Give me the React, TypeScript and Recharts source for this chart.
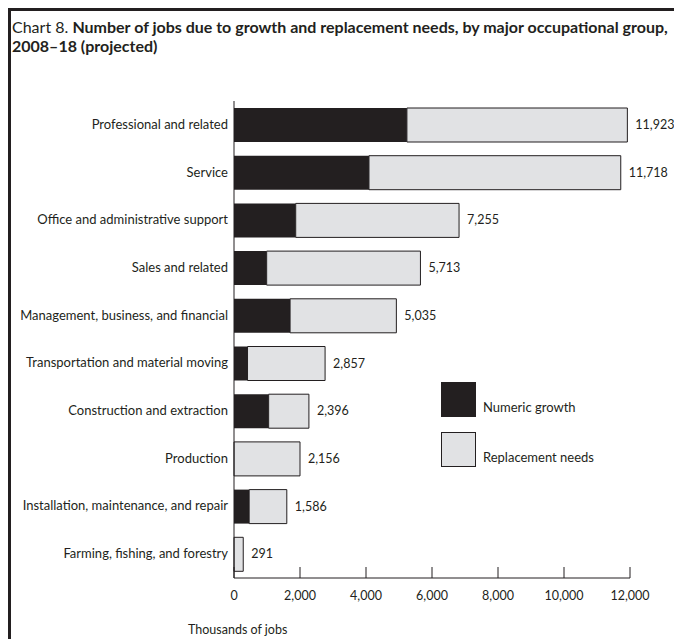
import React from 'react';
import { BarChart, Bar, XAxis, YAxis, LabelList } from 'recharts';

const categories = [
  'Professional and related',
  'Service',
  'Office and administrative support',
  'Sales and related',
  'Management, business, and financial',
  'Transportation and material moving',
  'Construction and extraction',
  'Production',
  'Installation, maintenance, and repair',
  'Farming, fishing, and forestry',
];
const numericGrowth = [5240, 4090, 1870, 990, 1700, 410, 1050, 0, 460, 0];
const replacementNeeds = [6680, 7630, 4950, 4660, 3220, 2350, 1220, 2000, 1140, 280];
const totalLabels = ['11,923', '11,718', '7,255', '5,713', '5,035', '2,857', '2,396', '2,156', '1,586', '291'];
const xTicks = [0, 2000, 4000, 6000, 8000, 10000, 12000];

const data = categories.map((name, i) => ({
  name,
  growth: numericGrowth[i],
  replacement: replacementNeeds[i],
  label: totalLabels[i],
}));

const INK = '#231f20';
const GRAY = '#e1e2e4';
const FONT = 'Lato, "Noto Sans", sans-serif';
const AXIS_Y = 578;

const XTick = (props: any) => {
  const { x, payload } = props;
  return (
    <g>
      <line x1={x} x2={x} y1={AXIS_Y - 11} y2={AXIS_Y} stroke={INK} strokeWidth={1} />
      <text x={x} y={AXIS_Y + 22} textAnchor="middle" fontSize={12.5} fill={INK} fontFamily={FONT}>
        {payload.value.toLocaleString('en-US')}
      </text>
    </g>
  );
};

const YTick = (props: any) => {
  const { x, y, payload } = props;
  return (
    <text x={x} y={y} dy={4} textAnchor="end" fontSize={13} fill={INK} fontFamily={FONT}>
      {payload.value}
    </text>
  );
};

const ValueLabel = (props: any) => {
  const { x, y, width, height, value } = props;
  return (
    <text x={x + width + 8} y={y + height / 2} dy={4} fontSize={12.5} fill={INK} fontFamily={FONT}>
      {value}
    </text>
  );
};

const LegendBox = () => (
  <div style={{ position: 'absolute', left: 441, top: 382, fontFamily: FONT, fontSize: 13, color: INK }}>
    <div style={{ display: 'flex', alignItems: 'flex-end', height: 35 }}>
      <div style={{ width: 35, height: 35, background: INK }} />
      <span style={{ marginLeft: 7, marginBottom: 2, whiteSpace: 'nowrap' }}>Numeric growth</span>
    </div>
    <div style={{ display: 'flex', alignItems: 'flex-end', height: 35, marginTop: 15 }}>
      <div style={{ width: 35, height: 35, background: GRAY, border: `1px solid ${INK}`, boxSizing: 'border-box' }} />
      <span style={{ marginLeft: 7, marginBottom: 2, whiteSpace: 'nowrap' }}>Replacement needs</span>
    </div>
  </div>
);

export default function App() {
  return (
    <div style={{ position: 'absolute', left: 0, top: 0, width: 674, height: 639, background: '#fff', overflow: 'hidden' }}>
      <div
        style={{
          position: 'absolute',
          left: 12,
          top: 17,
          width: 662,
          fontFamily: FONT,
          fontSize: 16,
          lineHeight: '19px',
          color: INK,
          whiteSpace: 'nowrap',
        }}
      >
        Chart 8. <b>Number of jobs due to growth and replacement needs, by major occupational group,</b>
        <br />
        <b>2008–18 (projected)</b>
      </div>
      <div style={{ position: 'absolute', left: 0, top: 0 }}>
        <BarChart
          width={674}
          height={639}
          data={data}
          layout="vertical"
          margin={{ top: 101, right: 44, bottom: 21, left: 8 }}
        >
          <XAxis
            type="number"
            domain={[0, 12000]}
            ticks={xTicks}
            tickLine={false}
            axisLine={{ stroke: INK }}
            tick={<XTick />}
            height={40}
            interval={0}
          />
          <YAxis
            type="category"
            dataKey="name"
            width={226}
            tickLine={false}
            tickSize={0}
            tickMargin={6}
            axisLine={{ stroke: INK }}
            tick={<YTick />}
            interval={0}
          />
          <Bar dataKey="growth" name="Numeric growth" stackId="a" fill={INK} barSize={34} isAnimationActive={false} />
          <Bar
            dataKey="replacement"
            name="Replacement needs"
            stackId="a"
            fill={GRAY}
            stroke={INK}
            strokeWidth={1}
            barSize={34}
            isAnimationActive={false}
          >
            <LabelList dataKey="label" content={<ValueLabel />} />
          </Bar>
        </BarChart>
      </div>
      <LegendBox />
      <div
        style={{
          position: 'absolute',
          left: 188,
          top: 622,
          fontFamily: FONT,
          fontSize: 12.5,
          color: INK,
          whiteSpace: 'nowrap',
        }}
      >
        Thousands of jobs
      </div>
      <div style={{ position: 'absolute', left: 8, top: 8, width: 666, height: 3, background: INK, zIndex: 10 }} />
      <div style={{ position: 'absolute', left: 8, top: 8, width: 3, height: 631, background: INK, zIndex: 10 }} />
    </div>
  );
}
